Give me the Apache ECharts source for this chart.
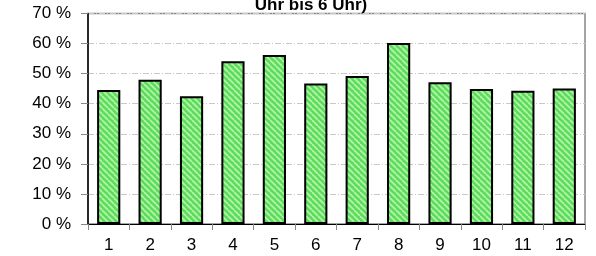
<!DOCTYPE html>
<html>
<head>
<meta charset="utf-8">
<script src="https://cdn.jsdelivr.net/npm/echarts@6/dist/echarts.min.js"></script>
<style>
  html, body { margin: 0; padding: 0; background: #fff; }
  #chart { width: 596px; height: 256px; }
</style>
</head>
<body>
<div id="chart"></div>
<script>
const categories = ["1", "2", "3", "4", "5", "6", "7", "8", "9", "10", "11", "12"];
const values = [44.6, 48.0, 42.5, 54.1, 56.2, 46.7, 49.2, 60.2, 47.1, 44.9, 44.3, 45.1];
const yTicks = [0, 10, 20, 30, 40, 50, 60, 70];
const titleText = "Uhr bis 6 Uhr)";

// diagonal hatch fill, like the old spreadsheet pattern
function hatch() {
  const c = document.createElement("canvas");
  c.width = 6; c.height = 6;
  const g = c.getContext("2d");
  g.fillStyle = "#5fdc5f";
  g.fillRect(0, 0, 6, 6);
  g.strokeStyle = "#b4f7a8";
  g.lineWidth = 1.6;
  for (let k = -6; k <= 12; k += 6) {
    g.beginPath();
    g.moveTo(k, 0);
    g.lineTo(k + 6, 6);
    g.stroke();
  }
  return c;
}

const chart = echarts.init(document.getElementById("chart"));
chart.setOption({
  animation: false,
  title: {
    text: titleText,
    left: 306,
    textAlign: "center",
    top: -8,
    textStyle: { fontFamily: "Liberation Sans", fontSize: 17, fontWeight: "bold", color: "#000" }
  },
  grid: { left: 88, right: 11, top: 13.5, bottom: 32, show: true, borderColor: "#888", borderWidth: 1.5 },
  xAxis: {
    type: "category",
    data: categories,
    axisLine: { lineStyle: { color: "#000", width: 1 } },
    axisTick: { show: true, length: 6, inside: false, lineStyle: { color: "#888" } },
    axisLabel: { color: "#000", fontFamily: "Liberation Sans", fontSize: 17, margin: 13 }
  },
  yAxis: {
    type: "value",
    min: yTicks[0],
    max: yTicks[yTicks.length - 1],
    interval: 10,
    axisLine: { show: true, lineStyle: { color: "#000", width: 1.5 } },
    axisTick: { show: true, length: 7, lineStyle: { color: "#888" } },
    axisLabel: { color: "#000", fontFamily: "Liberation Sans", fontSize: 17, margin: 17, formatter: "{value} %" },
    splitLine: { show: true, lineStyle: { color: "#c8c8c8", type: [6, 2, 1, 2], width: 1 } }
  },
  series: [{
    type: "bar",
    data: values,
    barWidth: "56%",
    itemStyle: {
      color: { image: hatch(), repeat: "repeat" },
      borderColor: "#000",
      borderWidth: 2
    }
  }]
});
</script>
</body>
</html>
